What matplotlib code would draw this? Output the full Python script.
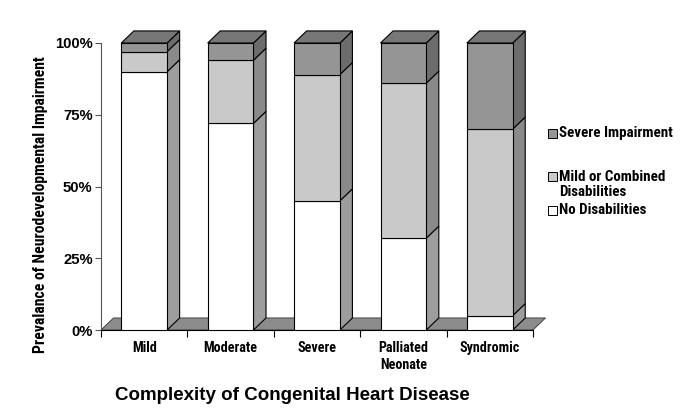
import matplotlib
matplotlib.use("Agg")
import matplotlib.pyplot as plt
from matplotlib import font_manager
from matplotlib.patches import Polygon, Rectangle
import numpy as np

plt.rcParams.update({"font.family": ["Liberation Sans", "DejaVu Sans"], "font.weight": "bold"})


def narrow_bold():
    # first condensed bold face found on the system, else plain bold
    wanted = ["LiberationSansNarrow-Bold.", "RobotoCondensed-Bold.", "OpenSansCondensed-Bold.",
              "OpenSans_Condensed-Bold.", "NotoSans-CondensedBold.", "DejaVuSansCondensed-Bold."]
    files = [f.fname for f in font_manager.fontManager.ttflist]
    for w in wanted:
        for f in files:
            if w.lower() in f.lower().replace("\\", "/").split("/")[-1]:
                return font_manager.FontProperties(fname=f)
    return font_manager.FontProperties(family="Liberation Sans", weight="bold")


# data (percent of patients)
categories = ["Mild", "Moderate", "Severe", "Palliated\nNeonate", "Syndromic"]
no_dis = [90, 72, 45, 32, 5]
mild_comb = [7, 22, 44, 54, 65]
severe = [3, 6, 11, 14, 30]
series_names = ["No Disabilities", "Mild or Combined\nDisabilities", "Severe Impairment"]

front = ["#ffffff", "#c9c9c9", "#959595"]
side = ["#9d9d9d", "#8a8a8a", "#6c6c6c"]
top_col = "#777777"
floor_col = "#8c8c8c"

W, H = 693, 408
fig = plt.figure(figsize=(W / 100, H / 100), dpi=100)
ax = fig.add_axes([101 / W, 78 / H, 432 / W, 287 / H])
NP = narrow_bold()

x = np.arange(len(categories)) + 0.5
bw = 0.53
dx, dy = 0.145, 4.2  # 3-d depth in data units

# floor
ax.add_patch(Polygon([(0, 0), (5, 0), (5 + dx, dy), (dx, dy)], closed=True,
                     facecolor=floor_col, edgecolor="#333333", lw=0.6, clip_on=False, zorder=1))

bottoms = np.zeros(len(categories))
for k, vals in enumerate([no_dis, mild_comb, severe]):
    vals = np.array(vals, dtype=float)
    ax.bar(x, vals, bw, bottom=bottoms, color=front[k], edgecolor="black", lw=0.8, zorder=3)
    for xi, b, v in zip(x, bottoms, vals):
        xr = xi + bw / 2
        ax.add_patch(Polygon([(xr, b), (xr + dx, b + dy), (xr + dx, b + v + dy), (xr, b + v)],
                             closed=True, facecolor=side[k], edgecolor="black", lw=0.8,
                             clip_on=False, zorder=2))
    bottoms = bottoms + vals

for xi, t in zip(x, bottoms):
    xl, xr = xi - bw / 2, xi + bw / 2
    ax.add_patch(Polygon([(xl, t), (xl + dx, t + dy), (xr + dx, t + dy), (xr, t)],
                         closed=True, facecolor=top_col, edgecolor="black", lw=0.8,
                         clip_on=False, zorder=2))

ax.set_xlim(0, 5)
ax.set_ylim(0, 100)
for s in ["top", "right"]:
    ax.spines[s].set_visible(False)
ax.spines["left"].set_color("#555555")
ax.spines["bottom"].set_color("black")
ax.set_yticks([0, 25, 50, 75, 100])
ax.set_yticklabels(["0%", "25%", "50%", "75%", "100%"], fontsize=10.7, fontweight="bold")
ax.tick_params(axis="y", length=4, width=0.8, color="#555555", pad=2)
ax.set_xticks(np.arange(6))
ax.set_xticklabels([])
ax.tick_params(axis="x", which="major", length=5, width=0.8, direction="out")
ax.set_xticks(x, minor=True)
cat_labels = ax.set_xticklabels(categories, minor=True, fontproperties=NP, linespacing=1.25)
ax.tick_params(axis="x", which="minor", length=0, pad=8)

ylab = fig.text(41 / W, 1 - 205 / H, "Prevalance of Neurodevelopmental Impairment", rotation=90,
                ha="center", va="center", fontproperties=NP)
fig.text(292 / W, 1 - 395 / H, "Complexity of Congenital Heart Disease",
         ha="center", va="center", fontsize=13.5, fontweight="bold")

# legend
leg_y = [133, 176, 210]
leg_texts = []
for name, c, yc in zip(series_names[::-1], front[::-1], leg_y):
    fig.patches.append(Rectangle((548 / W, 1 - (yc + 4.5) / H), 8.5 / W, 8.5 / H,
                                 transform=fig.transFigure, facecolor=c, edgecolor="black", lw=0.7))
    leg_texts.append(fig.text(559 / W, 1 - (yc - 6.5) / H, name, ha="left", va="top",
                              fontproperties=NP, linespacing=1.15))

# size the condensed texts to the widths measured on the reference
fig.canvas.draw()
r = fig.canvas.get_renderer()
for t in [ylab]:
    t.set_fontsize(10 * 295 / t.get_window_extent(r).height)
for t in cat_labels:
    t.set_fontsize(10)
fig.canvas.draw()
cw = cat_labels[1].get_window_extent(r).width
for t in cat_labels:
    t.set_fontsize(10 * 54 / cw)
for t in leg_texts:
    t.set_fontsize(10)
fig.canvas.draw()
lw_ = leg_texts[0].get_window_extent(r).width
for t in leg_texts:
    t.set_fontsize(10 * 114 / lw_)

fig.savefig("out.png", dpi=100)
